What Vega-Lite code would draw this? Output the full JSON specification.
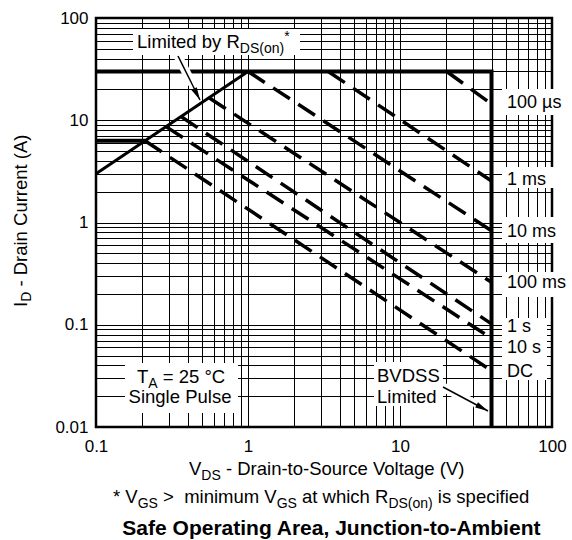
{
  "$schema": "https://vega.github.io/schema/vega-lite/v6.json",
  "width": 456,
  "height": 409,
  "autosize": {"type": "none"},
  "padding": {"left": 96, "top": 18, "right": 20, "bottom": 113},
  "background": "white",
  "config": {
    "font": "Liberation Sans",
    "view": {"stroke": "#000", "strokeWidth": 2.5, "fill": "white"}
  },
  "datasets": {
    "boxes": [
      {"b": "rds", "x": 0.17513, "x2": 2.1986, "y": 78.03, "y2": 43.46},
      {"b": "ta", "x": 0.15513, "x2": 0.8594, "y": 0.042254, "y2": 0.013706},
      {"b": "bv", "x": 6.7449, "x2": 19.179, "y": 0.043215, "y2": 0.016049},
      {"b": "100us", "x": 46.893, "x2": 127.43, "y": 20.21, "y2": 11.25},
      {"b": "1ms", "x": 46.893, "x2": 127.43, "y": 3.489, "y2": 2.175},
      {"b": "10ms", "x": 46.893, "x2": 127.43, "y": 1.132, "y2": 0.6302},
      {"b": "100ms", "x": 46.893, "x2": 127.43, "y": 0.3281, "y2": 0.1868},
      {"b": "1s-dc", "x": 46.893, "x2": 92.71, "y": 0.1164, "y2": 0.02882}
    ],
    "limits": [
      {"s": "lim", "k": 0, "x": 0.1, "y": 30},
      {"s": "lim", "k": 1, "x": 40, "y": 30},
      {"s": "lim", "k": 2, "x": 40, "y": 0.01},
      {"s": "idm", "k": 0, "x": 0.1, "y": 6.3},
      {"s": "idm", "k": 1, "x": 0.21, "y": 6.3}
    ],
    "rds": [
      {"s": "rds", "k": 0, "x": 0.1, "y": 3},
      {"s": "rds", "k": 1, "x": 1, "y": 30}
    ],
    "pulses": [
      {"s": "100 µs", "x": 20.3, "y": 30},
      {"s": "100 µs", "x": 40, "y": 14.4},
      {"s": "1 ms", "x": 3.37, "y": 30},
      {"s": "1 ms", "x": 40, "y": 2.55},
      {"s": "10 ms", "x": 1, "y": 30},
      {"s": "10 ms", "x": 40, "y": 0.83},
      {"s": "100 ms", "x": 0.554, "y": 16.6},
      {"s": "100 ms", "x": 40, "y": 0.26},
      {"s": "1 s", "x": 0.362, "y": 10.87},
      {"s": "1 s", "x": 40, "y": 0.102},
      {"s": "10 s", "x": 0.2888, "y": 8.66},
      {"s": "10 s", "x": 40, "y": 0.0736},
      {"s": "DC", "x": 0.21, "y": 6.3},
      {"s": "DC", "x": 40, "y": 0.0355}
    ],
    "arrows": [
      {"a": "rds", "p": "halo", "x": 0.34636, "y": 42.49, "x2": 0.42813, "y2": 22.62},
      {"a": "rds", "p": "shaft", "x": 0.34636, "y": 42.49, "x2": 0.4831, "y2": 15.78},
      {"a": "bv", "p": "halo", "x": 19.179, "y": 0.024613, "x2": 31.14, "y2": 0.016787},
      {"a": "bv", "p": "shaft", "x": 19.179, "y": 0.024613, "x2": 37.927, "y2": 0.014337}
    ],
    "heads": [
      {"a": "rds", "x": 0.4831, "y": 15.78},
      {"a": "bv", "x": 37.927, "y": 0.014337}
    ],
    "texts": [
      {"g": "ann", "x": 0.18611, "y": 50.88, "text": "Limited by R"},
      {"g": "annsub", "x": 0.8833, "y": 50.88, "text": "DS(on)"},
      {"g": "annsup", "x": 1.7287, "y": 50.88, "text": "*"},
      {"g": "ann", "x": 0.18611, "y": 0.026935, "text": "T"},
      {"g": "annsub", "x": 0.22083, "y": 0.026935, "text": "A"},
      {"g": "ann", "x": 0.27499, "y": 0.026935, "text": "= 25 °C"},
      {"g": "ann", "x": 0.16385, "y": 0.017169, "text": "Single Pulse"},
      {"g": "ann", "x": 7.0597, "y": 0.027548, "text": "BVDSS"},
      {"g": "ann", "x": 7.0597, "y": 0.017169, "text": "Limited"},
      {"g": "right", "x": 50.58, "y": 13.18, "text": "100 µs"},
      {"g": "right", "x": 50.58, "y": 2.326, "text": "1 ms"},
      {"g": "right", "x": 50.58, "y": 0.7217, "text": "10 ms"},
      {"g": "right", "x": 50.58, "y": 0.2288, "text": "100 ms"},
      {"g": "right", "x": 50.58, "y": 0.08492, "text": "1 s"},
      {"g": "right", "x": 50.58, "y": 0.05293, "text": "10 s"},
      {"g": "right", "x": 50.58, "y": 0.03083, "text": "DC"},
      {"g": "xt", "x": 0.40896, "y": 0.01, "text": "V"},
      {"g": "xtsub", "x": 0.4932, "y": 0.01, "text": "DS"},
      {"g": "xt", "x": 0.71571, "y": 0.01, "text": "- Drain-to-Source Voltage (V)"},
      {"g": "fn", "x": 0.12937, "y": 0.01, "text": "*\u00a0V"},
      {"g": "fnsub", "x": 0.18805, "y": 0.01, "text": "GS"},
      {"g": "fn", "x": 0.27612, "y": 0.01, "text": ">\u00a0\u00a0minimum V"},
      {"g": "fnsub", "x": 1.5431, "y": 0.01, "text": "GS"},
      {"g": "fn", "x": 2.2665, "y": 0.01, "text": "at which R"},
      {"g": "fnsub", "x": 8.386, "y": 0.01, "text": "DS(on)"},
      {"g": "fn", "x": 17.744, "y": 0.01, "text": "is specified"},
      {"g": "ttl", "x": 3.5375, "y": 0.01, "text": "Safe Operating Area, Junction-to-Ambient"},
      {"g": "yt", "x": 0.1, "y": 0.14916, "text": "I"},
      {"g": "ytsub", "x": 0.1, "y": 0.16746, "text": "D"},
      {"g": "yt", "x": 0.1, "y": 0.23604, "text": "- Drain Current (A)"}
    ]
  },
  "encoding": {
    "x": {
      "field": "x",
      "type": "quantitative",
      "scale": {"type": "log", "domain": [0.1, 100], "nice": false},
      "axis": {
        "title": null,
        "values": [0.1, 0.2, 0.3, 0.4, 0.5, 0.6, 0.7, 0.8, 0.9, 1, 2, 3, 4, 5, 6, 7, 8, 9, 10, 20, 30, 40, 50, 60, 70, 80, 90, 100],
        "format": "~g",
        "labelExpr": "indexof([0.1, 1, 10, 100], datum.value) >= 0 ? datum.label : ''",
        "grid": true,
        "gridColor": "#000",
        "gridOpacity": 1,
        "gridWidth": 1,
        "ticks": false,
        "domain": false,
        "labelFontSize": 17,
        "labelColor": "#000",
        "labelPadding": 11,
        "labelFlush": false,
        "labelOverlap": false,
        "labelBound": false
      }
    },
    "y": {
      "field": "y",
      "type": "quantitative",
      "scale": {"type": "log", "domain": [0.01, 100], "nice": false},
      "axis": {
        "title": null,
        "values": [0.01, 0.02, 0.03, 0.04, 0.05, 0.06, 0.07, 0.08, 0.09, 0.1, 0.2, 0.3, 0.4, 0.5, 0.6, 0.7, 0.8, 0.9, 1, 2, 3, 4, 5, 6, 7, 8, 9, 10, 20, 30, 40, 50, 60, 70, 80, 90, 100],
        "format": "~g",
        "labelExpr": "indexof([0.01, 0.1, 1, 10, 100], datum.value) >= 0 ? datum.label : ''",
        "grid": true,
        "gridColor": "#000",
        "gridOpacity": 1,
        "gridWidth": 1,
        "ticks": false,
        "domain": false,
        "labelFontSize": 17,
        "labelColor": "#000",
        "labelPadding": 8,
        "labelFlush": false,
        "labelOverlap": false,
        "labelBound": false
      }
    }
  },
  "layer": [
    {
      "data": {"name": "boxes"},
      "mark": {"type": "rect", "color": "white", "opacity": 1},
      "encoding": {"x2": {"field": "x2"}, "y2": {"field": "y2"}}
    },
    {
      "data": {"name": "limits"},
      "mark": {"type": "line", "color": "#000", "strokeWidth": 4, "strokeJoin": "miter", "strokeCap": "butt"},
      "encoding": {"detail": {"field": "s"}, "order": {"field": "k"}}
    },
    {
      "data": {"name": "rds"},
      "mark": {"type": "line", "color": "#000", "strokeWidth": 3, "strokeCap": "butt"},
      "encoding": {"detail": {"field": "s"}, "order": {"field": "k"}}
    },
    {
      "data": {"name": "pulses"},
      "mark": {"type": "line", "color": "#000", "strokeWidth": 3.5, "strokeCap": "butt", "strokeDash": [20, 10]},
      "encoding": {"detail": {"field": "s"}}
    },
    {
      "data": {"name": "arrows"},
      "transform": [{"filter": "datum.p === 'halo'"}],
      "mark": {"type": "rule", "color": "white", "strokeWidth": 9},
      "encoding": {"x2": {"field": "x2"}, "y2": {"field": "y2"}}
    },
    {
      "data": {"name": "arrows"},
      "transform": [{"filter": "datum.p === 'shaft'"}],
      "mark": {"type": "rule", "color": "#000", "strokeWidth": 1.5},
      "encoding": {"x2": {"field": "x2"}, "y2": {"field": "y2"}}
    },
    {
      "data": {"name": "heads"},
      "transform": [{"filter": "datum.a === 'rds'"}],
      "mark": {"type": "point", "shape": "M0,0L-1,4.3L1,4.3Z", "size": 36, "filled": true, "color": "#000", "opacity": 1, "strokeWidth": 0, "angle": 152.9},
      "encoding": {}
    },
    {
      "data": {"name": "heads"},
      "transform": [{"filter": "datum.a === 'bv'"}],
      "mark": {"type": "point", "shape": "M0,0L-1,4.3L1,4.3Z", "size": 36, "filled": true, "color": "#000", "opacity": 1, "strokeWidth": 0, "angle": 118.1},
      "encoding": {}
    },
    {
      "data": {"name": "texts"},
      "transform": [{"filter": "datum.g === 'ann'"}],
      "mark": {"type": "text", "align": "left", "baseline": "alphabetic", "fontSize": 18.5, "color": "#000"},
      "encoding": {"text": {"field": "text"}}
    },
    {
      "data": {"name": "texts"},
      "transform": [{"filter": "datum.g === 'annsub'"}],
      "mark": {"type": "text", "align": "left", "baseline": "alphabetic", "fontSize": 14, "dy": 5, "color": "#000"},
      "encoding": {"text": {"field": "text"}}
    },
    {
      "data": {"name": "texts"},
      "transform": [{"filter": "datum.g === 'annsup'"}],
      "mark": {"type": "text", "align": "left", "baseline": "alphabetic", "fontSize": 14, "dy": -7, "color": "#000"},
      "encoding": {"text": {"field": "text"}}
    },
    {
      "data": {"name": "texts"},
      "transform": [{"filter": "datum.g === 'right'"}],
      "mark": {"type": "text", "align": "left", "baseline": "alphabetic", "fontSize": 18, "color": "#000"},
      "encoding": {"text": {"field": "text"}}
    },
    {
      "data": {"name": "texts"},
      "transform": [{"filter": "datum.g === 'xt'"}],
      "mark": {"type": "text", "align": "left", "baseline": "alphabetic", "fontSize": 18.5, "dy": 48, "color": "#000"},
      "encoding": {"text": {"field": "text"}}
    },
    {
      "data": {"name": "texts"},
      "transform": [{"filter": "datum.g === 'xtsub'"}],
      "mark": {"type": "text", "align": "left", "baseline": "alphabetic", "fontSize": 14, "dy": 53, "color": "#000"},
      "encoding": {"text": {"field": "text"}}
    },
    {
      "data": {"name": "texts"},
      "transform": [{"filter": "datum.g === 'fn'"}],
      "mark": {"type": "text", "align": "left", "baseline": "alphabetic", "fontSize": 18.5, "dy": 76, "color": "#000"},
      "encoding": {"text": {"field": "text"}}
    },
    {
      "data": {"name": "texts"},
      "transform": [{"filter": "datum.g === 'fnsub'"}],
      "mark": {"type": "text", "align": "left", "baseline": "alphabetic", "fontSize": 14, "dy": 81, "color": "#000"},
      "encoding": {"text": {"field": "text"}}
    },
    {
      "data": {"name": "texts"},
      "transform": [{"filter": "datum.g === 'ttl'"}],
      "mark": {"type": "text", "align": "center", "baseline": "alphabetic", "fontSize": 21, "fontWeight": "bold", "dy": 108, "color": "#000"},
      "encoding": {"text": {"field": "text"}}
    },
    {
      "data": {"name": "texts"},
      "transform": [{"filter": "datum.g === 'yt'"}],
      "mark": {"type": "text", "align": "left", "baseline": "alphabetic", "fontSize": 18.5, "angle": 270, "dy": -69, "color": "#000"},
      "encoding": {"text": {"field": "text"}}
    },
    {
      "data": {"name": "texts"},
      "transform": [{"filter": "datum.g === 'ytsub'"}],
      "mark": {"type": "text", "align": "left", "baseline": "alphabetic", "fontSize": 14, "angle": 270, "dy": -65, "color": "#000"},
      "encoding": {"text": {"field": "text"}}
    }
  ]
}
